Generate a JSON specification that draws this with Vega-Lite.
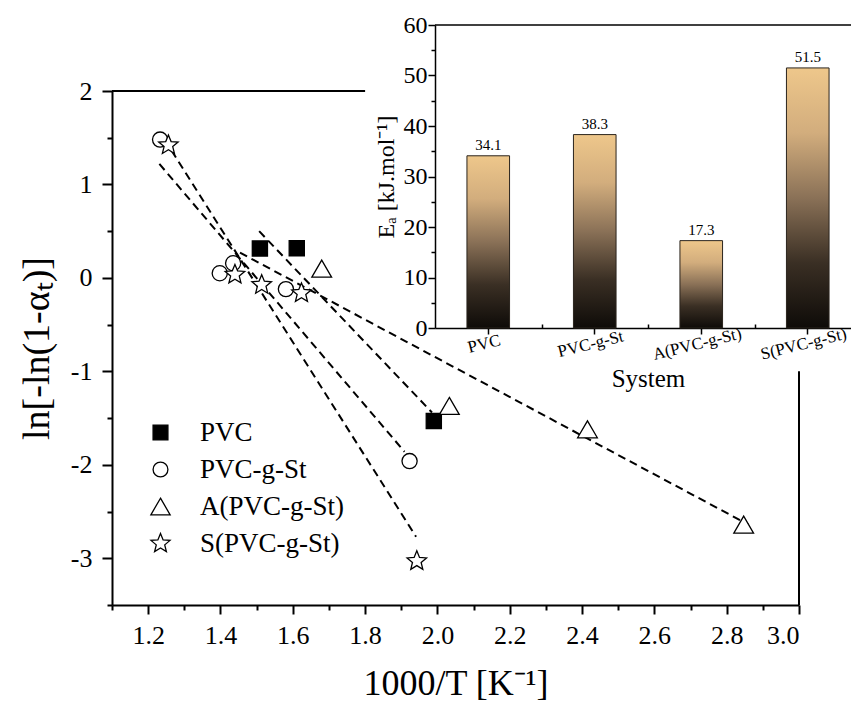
{
  "$schema": "https://vega.github.io/schema/vega-lite/v6.json",
  "width": 687,
  "height": 514,
  "autosize": {"type": "none"},
  "padding": {"left": 112, "top": 91, "right": 52, "bottom": 100},
  "background": "white",
  "config": {
    "font": "Liberation Serif",
    "view": {"stroke": null},
    "axis": {
      "grid": false,
      "domainColor": "black",
      "tickColor": "black",
      "labelColor": "black",
      "titleColor": "black",
      "titleFontWeight": "normal",
      "labelFont": "Liberation Serif",
      "titleFont": "Liberation Serif"
    },
    "legend": {"labelFont": "Liberation Serif"}
  },
  "datasets": {
    "points": [
      {"series": "PVC", "x": 1.509, "y": 0.315},
      {"series": "PVC", "x": 1.611, "y": 0.318},
      {"series": "PVC", "x": 1.99, "y": -1.53},
      {"series": "PVC-g-St", "x": 1.233, "y": 1.48},
      {"series": "PVC-g-St", "x": 1.398, "y": 0.05},
      {"series": "PVC-g-St", "x": 1.435, "y": 0.157},
      {"series": "PVC-g-St", "x": 1.581, "y": -0.12},
      {"series": "PVC-g-St", "x": 1.923, "y": -1.96},
      {"series": "A(PVC-g-St)", "x": 1.68, "y": 0.1},
      {"series": "A(PVC-g-St)", "x": 2.033, "y": -1.37},
      {"series": "A(PVC-g-St)", "x": 2.415, "y": -1.62},
      {"series": "A(PVC-g-St)", "x": 2.847, "y": -2.64},
      {"series": "S(PVC-g-St)", "x": 1.256, "y": 1.42},
      {"series": "S(PVC-g-St)", "x": 1.44, "y": 0.035},
      {"series": "S(PVC-g-St)", "x": 1.514, "y": -0.075},
      {"series": "S(PVC-g-St)", "x": 1.624, "y": -0.163},
      {"series": "S(PVC-g-St)", "x": 1.943, "y": -3.03}
    ],
    "fits": [
      {"series": "PVC", "x": 1.507, "y": 0.5},
      {"series": "PVC", "x": 1.985, "y": -1.44},
      {"series": "PVC-g-St", "x": 1.231, "y": 1.22},
      {"series": "PVC-g-St", "x": 1.909, "y": -1.86},
      {"series": "A(PVC-g-St)", "x": 1.454, "y": 0.27},
      {"series": "A(PVC-g-St)", "x": 2.86, "y": -2.64},
      {"series": "S(PVC-g-St)", "x": 1.265, "y": 1.36},
      {"series": "S(PVC-g-St)", "x": 1.941, "y": -2.77}
    ],
    "frame": [
      {"x": 1.1, "x2": 1.8, "y": 2, "y2": 2},
      {"x": 3.0, "x2": 3.0, "y": -3.5, "y2": -1.0}
    ],
    "bars": [
      {"system": "PVC", "ea": 34.1},
      {"system": "PVC-g-St", "ea": 38.3},
      {"system": "A(PVC-g-St)", "ea": 17.3},
      {"system": "S(PVC-g-St)", "ea": 51.5}
    ],
    "insetTop": [{"start": 0, "end": 1, "top": 60}]
  },
  "layer": [
    {
      "layer": [
        {
          "data": {"name": "fits"},
          "mark": {"type": "line", "color": "black", "strokeWidth": 2, "strokeDash": [8, 5]},
          "encoding": {
            "x": {
              "field": "x", "type": "quantitative",
              "scale": {"domain": [1.1, 3.0], "nice": false, "zero": false},
              "axis": {
                "orient": "bottom",
                "values": [1.2, 1.4, 1.6, 1.8, 2.0, 2.2, 2.4, 2.6, 2.8, 3.0],
                "format": ".1f",
                "domainWidth": 2, "tickWidth": 2, "tickSize": 9,
                "labelFontSize": 26, "labelPadding": 8,
                "title": "1000/T [K⁻¹]", "titleFontSize": 36, "titlePadding": 18
              }
            },
            "y": {
              "field": "y", "type": "quantitative",
              "scale": {"domain": [-3.5, 2], "nice": false, "zero": false},
              "axis": {
                "orient": "left",
                "values": [-3, -2, -1, 0, 1, 2],
                "labelExpr": "'' + datum.value",
                "domainWidth": 2, "tickWidth": 2, "tickSize": 10,
                "labelFontSize": 26, "labelPadding": 10,
                "title": "ln[-ln(1-αₜ)]", "titleFontSize": 38, "titlePadding": 14
              }
            },
            "detail": {"field": "series"}
          }
        },
        {
          "data": {"name": "points"},
          "mark": {"type": "point", "filled": true, "stroke": "black", "strokeWidth": 1.3, "size": 230, "opacity": 1},
          "encoding": {
            "x": {"field": "x", "type": "quantitative"},
            "y": {"field": "y", "type": "quantitative"},
            "shape": {
              "field": "series", "type": "nominal",
              "scale": {
                "domain": ["PVC", "PVC-g-St", "A(PVC-g-St)", "S(PVC-g-St)"],
                "range": ["square", "circle", "M0,-1.12L1.3,1.12L-1.3,1.12Z", "M0,-1.35L0.353,-0.485L1.284,-0.417L0.571,0.185L0.794,1.092L0,0.6L-0.794,1.092L-0.571,0.185L-1.284,-0.417L-0.353,-0.485Z"]
              },
              "legend": {
                "orient": "none", "legendX": 35, "legendY": 328,
                "title": null, "labelFontSize": 27, "labelColor": "black",
                "symbolSize": 220, "symbolStrokeColor": "black", "symbolStrokeWidth": 1.3,
                "labelOffset": 26, "rowPadding": 9
              }
            },
            "color": {
              "field": "series", "type": "nominal",
              "scale": {
                "domain": ["PVC", "PVC-g-St", "A(PVC-g-St)", "S(PVC-g-St)"],
                "range": ["black", "white", "white", "white"]
              },
              "legend": {
                "orient": "none", "legendX": 35, "legendY": 328,
                "title": null, "labelFontSize": 27, "labelColor": "black",
                "symbolSize": 220, "symbolStrokeColor": "black", "symbolStrokeWidth": 1.3,
                "labelOffset": 26, "rowPadding": 9
              }
            }
          }
        }
      ]
    },
    {
      "data": {"name": "frame"},
      "mark": {"type": "rule", "color": "black", "strokeWidth": 2},
      "encoding": {
        "x": {
          "field": "x", "type": "quantitative",
          "scale": {"domain": [1.1, 3.0], "nice": false, "zero": false},
          "axis": {
            "orient": "bottom", "values": [1.1, 1.3, 1.5, 1.7, 1.9, 2.1, 2.3, 2.5, 2.7, 2.9],
            "labels": false, "domain": false, "tickSize": 5, "tickWidth": 2, "title": null
          }
        },
        "x2": {"field": "x2"},
        "y": {
          "field": "y", "type": "quantitative",
          "scale": {"domain": [-3.5, 2], "nice": false, "zero": false},
          "axis": {
            "orient": "left", "values": [-3.5, -2.5, -1.5, -0.5, 0.5, 1.5],
            "labels": false, "domain": false, "tickSize": 5, "tickWidth": 2, "title": null
          }
        },
        "y2": {"field": "y2"}
      }
    },
    {
      "layer": [
        {
          "data": {"name": "bars"},
          "mark": {
            "type": "bar",
            "stroke": "#2a241d",
            "strokeWidth": 1,
            "color": {
              "gradient": "linear", "x1": 0, "y1": 1, "x2": 0, "y2": 0,
              "stops": [
                {"offset": 0, "color": "#0e0b08"},
                {"offset": 0.25, "color": "#3a2f24"},
                {"offset": 0.5, "color": "#8a7157"},
                {"offset": 0.75, "color": "#d2ad7d"},
                {"offset": 1, "color": "#eec78b"}
              ]
            }
          },
          "encoding": {
            "x": {
              "field": "system", "type": "nominal", "sort": null,
              "scale": {
                "domain": ["PVC", "PVC-g-St", "A(PVC-g-St)", "S(PVC-g-St)"],
                "range": [323, 749], "paddingInner": 0.6, "paddingOuter": 0.3
              },
              "axis": {
                "orient": "bottom", "offset": -277,
                "domainWidth": 1.5, "tickWidth": 1.5, "tickSize": 6,
                "labelAngle": -14, "labelAlign": "center", "labelBaseline": "top",
                "labelFontSize": 17, "labelPadding": 2, "labelOffset": -6,
                "title": "System", "titleFontSize": 25, "titlePadding": 4
              }
            },
            "y": {
              "field": "ea", "type": "quantitative",
              "scale": {"domain": [0, 60], "range": [237, -66], "nice": false},
              "axis": {
                "orient": "left", "offset": -323,
                "values": [0, 10, 20, 30, 40, 50, 60],
                "domainWidth": 1.5, "tickWidth": 1.5, "tickSize": 7,
                "labelFontSize": 24, "labelPadding": 1,
                "title": "Eₐ [kJ.mol⁻¹]", "titleFontSize": 24, "titlePadding": 5
              }
            }
          }
        },
        {
          "data": {"name": "bars"},
          "mark": {"type": "text", "baseline": "bottom", "dy": -3, "fontSize": 15, "color": "black"},
          "encoding": {
            "x": {"field": "system", "type": "nominal", "sort": null, "bandPosition": 0.5},
            "y": {"field": "ea", "type": "quantitative"},
            "text": {"field": "ea", "type": "quantitative", "format": ".1f"}
          }
        }
      ]
    },
    {
      "data": {"name": "insetTop"},
      "mark": {"type": "rule", "color": "black", "strokeWidth": 1.5},
      "encoding": {
        "x": {
          "field": "start", "type": "quantitative",
          "scale": {"domain": [0, 1], "range": [323, 749]},
          "axis": {
            "orient": "bottom", "offset": -277, "values": [0.25, 0.5, 0.75],
            "labels": false, "domain": false, "tickSize": -4, "tickWidth": 1.5, "title": null
          }
        },
        "x2": {"field": "end"},
        "y": {
          "field": "top", "type": "quantitative",
          "scale": {"domain": [0, 60], "range": [237, -66], "nice": false},
          "axis": {
            "orient": "left", "offset": -323, "values": [5, 15, 25, 35, 45, 55],
            "labels": false, "domain": false, "tickSize": 4, "tickWidth": 1.5, "title": null
          }
        }
      }
    }
  ],
  "resolve": {
    "scale": {"x": "independent", "y": "independent"},
    "axis": {"x": "independent", "y": "independent"}
  }
}
